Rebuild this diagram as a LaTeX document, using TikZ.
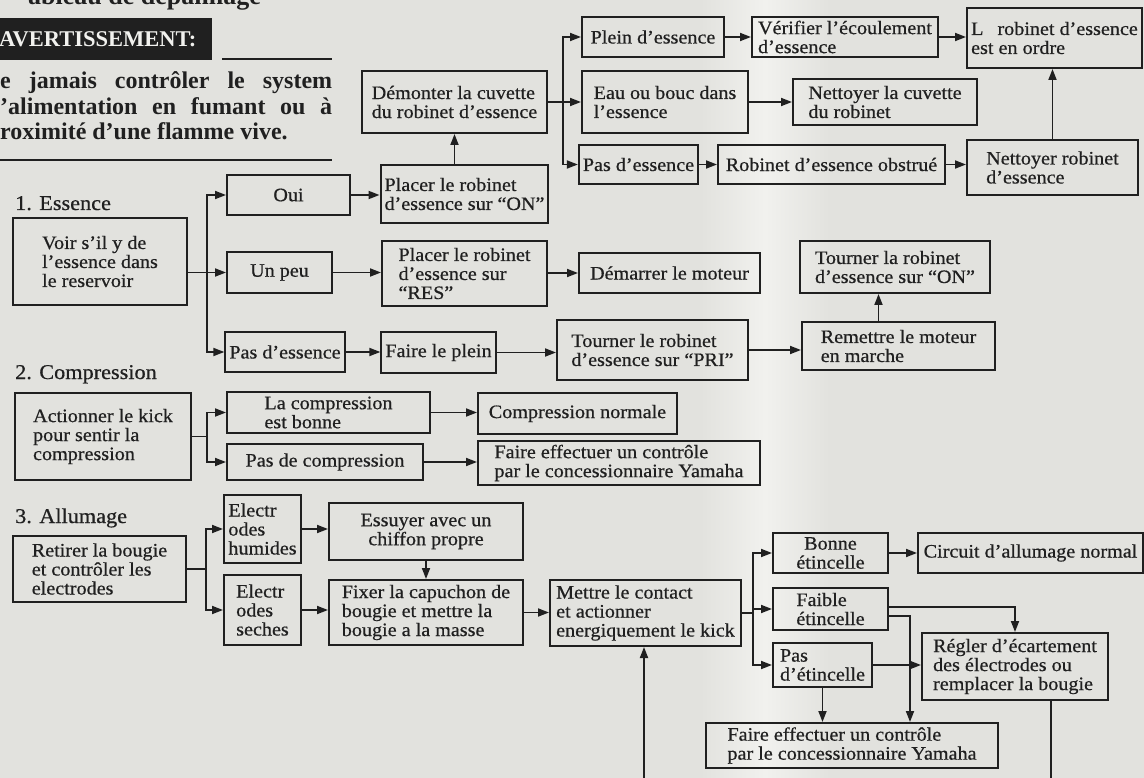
\documentclass[tikz,border=0pt]{standalone}
\usepackage{fontspec}
\setmainfont[FakeStretch=1.06,FakeBold=0.6]{Liberation Serif}
\newfontfamily\avfont{Liberation Serif}
\usetikzlibrary{arrows.meta,calc}
\definecolor{papier}{RGB}{226,226,222}
\definecolor{papierclair}{RGB}{241,241,238}
\definecolor{encre}{RGB}{32,32,32}

\begin{document}
\begin{tikzpicture}[x=1pt,y=-1pt,
   boite/.style={draw=encre,line width=2pt,inner xsep=4pt,inner ysep=2pt,align=left,text=encre,
      font=\fontsize{19}{19}\selectfont},
   fleche/.style={draw=encre,line width=1.8pt,-{Triangle[length=11pt,width=8pt]}},
   trait/.style={draw=encre,line width=1.8pt},
   rubrique/.style={text=encre,inner sep=0pt,anchor=base west,font=\fontsize{21}{22}\selectfont},
   avis/.style={text=encre,inner sep=0pt,anchor=base west,font={\avfont\bfseries\fontsize{24}{26}\selectfont}}]
   \useasboundingbox (0,0) rectangle (1144,778);
   \clip (0,0) rectangle (1144,778);
   %fond
   \fill[papier] (0,0) rectangle (1144,778);
   \shade[left color=papier,right color=papier,middle color=papierclair] (700,0) rectangle (830,778);
   %titre et avertissement
   \node[anchor=base west,inner sep=0pt,text=encre,font={\avfont\bfseries\fontsize{26}{28}\selectfont}] (titre) at (28,5) {ableau de dépannage};
   \fill[encre] (0,18) rectangle (212,60);
   \node[anchor=base west,inner sep=0pt,text=papierclair,font={\avfont\bfseries\fontsize{22.5}{24}\selectfont}] (avert) at (-1,47) {AVERTISSEMENT:};
   \draw[trait] (222,59) -- (332,59);
   \node[avis] (avis1) at (0,89) {\makebox[332pt][s]{e jamais contrôler le system}};
   \node[avis] (avis2) at (0,115) {\makebox[332pt][s]{’alimentation en fumant ou à}};
   \node[avis] (avis3) at (0,140) {roximité d’une flamme vive.};
   \draw[trait] (0,160) -- (332,160);
   %1. essence
   \node[rubrique] (ess) at (15,210) {1. Essence};
   \node[boite,minimum width=174pt,minimum height=87pt] (voir) at (100,261.5) {Voir s’il y de\\l’essence dans\\le reservoir};
   \node[boite,minimum width=123pt,minimum height=40pt] (oui) at (288.5,195) {Oui};
   \node[boite,minimum width=105pt,minimum height=41pt] (unpeu) at (279.5,272.5) {Un peu};
   \node[boite,minimum width=116pt,minimum height=40pt] (pasess) at (285,352) {Pas d’essence};
   \node[boite,minimum width=165pt,minimum height=58pt] (placeron) at (464.5,194) {Placer le robinet\\d’essence sur “ON”};
   \node[boite,minimum width=165pt,minimum height=65pt] (placerres) at (464.5,273.5) {Placer le robinet\\d’essence sur\\“RES”};
   \node[boite,minimum width=113pt,minimum height=41pt] (faireplein) at (438.5,352.5) {Faire le plein};
   \node[boite,minimum width=185pt,minimum height=62pt] (demonter) at (454.5,102) {Démonter la cuvette\\du robinet d’essence};
   \node[boite,minimum width=142pt,minimum height=40pt] (plein) at (653,37) {Plein d’essence};
   \node[boite,minimum width=166pt,minimum height=62pt] (eau) at (665,102) {Eau ou bouc dans\\l’essence};
   \node[boite,minimum width=113pt,minimum height=39pt] (pasess2) at (638.5,164.5) {Pas d’essence};
   \node[boite,minimum width=186pt,minimum height=40pt,inner ysep=1pt] (verifier) at (845,37) {Vérifier l’écoulement\\d’essence};
   \node[boite,minimum width=175pt,minimum height=60pt,inner xsep=2pt] (lrobinet) at (1054.5,38) {L\hspace{14pt}robinet d’essence\\est en ordre};
   \node[boite,minimum width=184pt,minimum height=46pt] (nettcuv) at (885,102) {Nettoyer la cuvette\\du robinet};
   \node[boite,minimum width=227pt,minimum height=39pt] (obstrue) at (831.5,164.5) {Robinet d’essence obstrué};
   \node[boite,minimum width=171pt,minimum height=55pt] (nettrob) at (1052.5,167.5) {Nettoyer robinet\\d’essence};
   \node[boite,minimum width=181pt,minimum height=40pt] (demarrer) at (669.5,273) {Démarrer le moteur};
   \node[boite,minimum width=191pt,minimum height=60pt] (tournerpri) at (652.5,350) {Tourner le robinet\\d’essence sur “PRI”};
   \node[boite,minimum width=190pt,minimum height=52pt] (tourneron) at (895,267) {Tourner la robinet\\d’essence sur “ON”};
   \node[boite,minimum width=193pt,minimum height=48pt] (remettre) at (898.5,346) {Remettre le moteur\\en marche};
   \coordinate (tr1) at (207,0);
   \draw[fleche] (voir.east |- unpeu.west) -- (unpeu.west);
   \draw[fleche] (voir.east |- unpeu.west) -- (tr1 |- unpeu.west) |- (oui.west);
   \draw[fleche] (voir.east |- unpeu.west) -- (tr1 |- unpeu.west) |- (pasess.west);
   \draw[fleche] (oui.east) -- (oui.east -| placeron.west);
   \draw[fleche] (placeron.north -| demonter.south) -- (demonter.south);
   \draw[fleche] (unpeu.east) -- (unpeu.east -| placerres.west);
   \draw[fleche] (placerres.east |- demarrer.west) -- (demarrer.west);
   \draw[fleche] (pasess.east) -- (pasess.east -| faireplein.west);
   \draw[fleche] (faireplein.east) -- (faireplein.east -| tournerpri.west);
   \draw[fleche] (tournerpri.east) -- (tournerpri.east -| remettre.west);
   \coordinate (mont) at ($(remettre.north)+(-20,0)$);
   \draw[fleche] (mont) -- (mont |- tourneron.south);
   \coordinate (tr2) at (563,0);
   \draw[fleche] (demonter.east) -- (eau.west);
   \draw[fleche] (demonter.east) -- (tr2 |- demonter.east) |- (plein.west);
   \draw[fleche] (demonter.east) -- (tr2 |- demonter.east) |- (pasess2.west);
   \draw[fleche] (plein.east) -- (plein.east -| verifier.west);
   \draw[fleche] (verifier.east) -- (verifier.east -| lrobinet.west);
   \draw[fleche] (eau.east) -- (eau.east -| nettcuv.west);
   \draw[fleche] (pasess2.east) -- (pasess2.east -| obstrue.west);
   \draw[fleche] (obstrue.east) -- (obstrue.east -| nettrob.west);
   \draw[fleche] (nettrob.north) -- (nettrob.north |- lrobinet.south);
   %2. compression
   \node[rubrique] (comp) at (15,379) {2. Compression};
   \node[boite,minimum width=176pt,minimum height=87pt] (actionner) at (103,436.5) {Actionner le kick\\pour sentir la\\compression};
   \node[boite,minimum width=203pt,minimum height=41pt] (labonne) at (328.5,412.5) {La compression\\est bonne};
   \node[boite,minimum width=196pt,minimum height=36pt] (pascomp) at (325,462) {Pas de compression};
   \node[boite,minimum width=199pt,minimum height=41pt] (compnorm) at (577.5,413.5) {Compression normale};
   \node[boite,minimum width=282pt,minimum height=44pt] (faire1) at (619,463) {Faire effectuer un contrôle\\par le concessionnaire Yamaha};
   \coordinate (tr3) at (207,0);
   \draw[fleche] (actionner.east) -- (tr3 |- actionner.east) |- (labonne.west);
   \draw[fleche] (actionner.east) -- (tr3 |- actionner.east) |- (pascomp.west);
   \draw[fleche] (labonne.east) -- (labonne.east -| compnorm.west);
   \draw[fleche] (pascomp.east) -- (pascomp.east -| faire1.west);
   %3. allumage
   \node[rubrique] (allum) at (15,523) {3. Allumage};
   \node[boite,minimum width=173pt,minimum height=66pt] (retirer) at (99.5,569) {Retirer la bougie\\et contrôler les\\electrodes};
   \node[boite,minimum width=77pt,minimum height=68pt,inner xsep=2pt] (humides) at (262.5,529) {Electr\\odes\\humides};
   \node[boite,minimum width=77pt,minimum height=70pt] (seches) at (262.5,610) {Electr\\odes\\seches};
   \node[boite,minimum width=194pt,minimum height=57pt,align=center] (essuyer) at (426,531.5) {Essuyer avec un\\chiffon propre};
   \node[boite,minimum width=194pt,minimum height=65pt] (fixer) at (426,612.5) {Fixer la capuchon de\\bougie et mettre la\\bougie a la masse};
   \node[boite,minimum width=191pt,minimum height=66pt,inner xsep=2pt] (mettre) at (645.5,613) {Mettre le contact\\et actionner\\energiquement le kick};
   \node[boite,minimum width=115pt,minimum height=40pt,align=center] (bonne) at (830.5,553) {Bonne\\étincelle};
   \node[boite,minimum width=225pt,minimum height=40pt,inner xsep=2pt] (circuit) at (1030.5,553) {Circuit d’allumage normal};
   \node[boite,minimum width=115pt,minimum height=42pt] (faible) at (830.5,609) {Faible\\étincelle};
   \node[boite,minimum width=99pt,minimum height=44pt] (pasetin) at (822.5,665) {Pas\\d’étincelle};
   \node[boite,minimum width=186pt,minimum height=67pt] (regler) at (1015,666.5) {Régler d’écartement\\des électrodes ou\\remplacer la bougie};
   \node[boite,minimum width=292pt,minimum height=45pt] (faire2) at (852,745.5) {Faire effectuer un contrôle\\par le concessionnaire Yamaha};
   \coordinate (tr4) at (206,0);
   \draw[fleche] (retirer.east) -- (tr4 |- retirer.east) |- (humides.west);
   \draw[fleche] (retirer.east) -- (tr4 |- retirer.east) |- (seches.west);
   \draw[fleche] (humides.east) -- (humides.east -| essuyer.west);
   \draw[fleche] (essuyer.south) -- (fixer.north);
   \draw[fleche] (seches.east) -- (seches.east -| fixer.west);
   \draw[fleche] (fixer.east) -- (fixer.east -| mettre.west);
   \coordinate (tr5) at (753,0);
   \draw[fleche] (mettre.east) -- (tr5 |- mettre.east) |- (bonne.west);
   \draw[fleche] (mettre.east) -- (tr5 |- mettre.east) |- (faible.west);
   \draw[fleche] (mettre.east) -- (tr5 |- mettre.east) |- (pasetin.west);
   \draw[fleche] (bonne.east) -- (bonne.east -| circuit.west);
   \draw[fleche] ($(faible.east)+(0,-2)$) -| (regler.north);
   \coordinate (desc) at (910,0);
   \draw[fleche] ($(faible.east)+(0,7)$) -| (desc |- faire2.north);
   \draw[fleche] (pasetin.east) -- (pasetin.east -| regler.west);
   \draw[fleche] (pasetin.south) -- (pasetin.south |- faire2.north);
   \coordinate (bas1) at (1051,780);
   \coordinate (bas2) at (644,780);
   \draw[trait] (bas1 |- regler.south) -- (bas1);
   \draw[fleche] (bas2) -- (bas2 |- mettre.south);
\end{tikzpicture}
\end{document}
